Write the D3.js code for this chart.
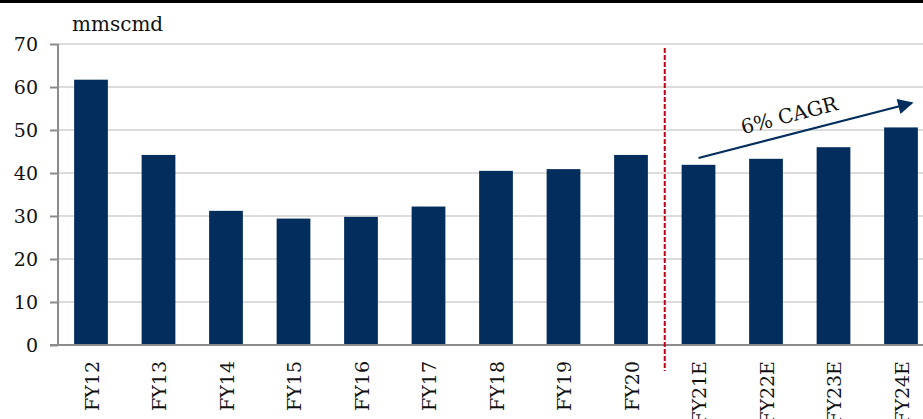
<!DOCTYPE html>
<html>
<head>
<meta charset="utf-8">
<script src="https://cdn.jsdelivr.net/npm/d3@7"></script>
<style>
  html, body { margin: 0; padding: 0; background: #fff; }
  svg { display: block; }
  text { font-family: "Palatino Linotype", "Book Antiqua", Palatino, "DejaVu Serif", serif; fill: #111; }
</style>
</head>
<body>
<svg id="chart" width="923" height="419"></svg>
<script>
// Gas demand, actual and estimated (mmscmd)
const categories = ["FY12", "FY13", "FY14", "FY15", "FY16", "FY17", "FY18", "FY19", "FY20", "FY21E", "FY22E", "FY23E", "FY24E"];
const values = [61.7, 44.2, 31.2, 29.4, 29.8, 32.2, 40.5, 40.9, 44.2, 41.9, 43.3, 46.0, 50.6];
const yTicks = [0, 10, 20, 30, 40, 50, 60, 70];
const unitLabel = "mmscmd";
const cagrLabel = "6% CAGR";
const forecastStart = "FY21E";

const W = 923, H = 419;
const FONT = '"Palatino Linotype","Book Antiqua",Palatino,"DejaVu Serif",serif';
const margin = { left: 57.25, top: 44 };
const plotRight = 934.75;

const svg = d3.select("#chart");

const x = d3.scaleBand().domain(categories).range([margin.left, plotRight]).paddingInner(0.5).paddingOuter(0.25);
const y = d3.scaleLinear().domain([0, 70]).range([345, 44]);

// top rule
svg.append("rect").attr("x", 0).attr("y", 0).attr("width", W).attr("height", 3).attr("fill", "#000");

// gridlines
svg.append("g").selectAll("line").data(yTicks.filter(d => d > 0)).join("line")
  .attr("x1", 58).attr("x2", W)
  .attr("y1", d => y(d)).attr("y2", d => y(d))
  .attr("stroke", "#dcdcdc").attr("stroke-width", 2);

// bars
svg.append("g").selectAll("rect").data(values).join("rect")
  .attr("x", (d, i) => x(categories[i]))
  .attr("width", x.bandwidth())
  .attr("y", d => y(d))
  .attr("height", d => y(0) - y(d))
  .attr("fill", "#032d5c");

// y axis
const yAxis = d3.axisLeft(y).tickValues(yTicks).tickSize(8).tickPadding(12).tickFormat(d3.format("d"));
const gy = svg.append("g").attr("transform", "translate(58,0)").call(yAxis);
gy.select(".domain").attr("stroke", "#8c8c8c").attr("stroke-width", 2).attr("d", `M0,${y(70)}V${y(0)}`);
gy.selectAll(".tick line").attr("stroke", "#8c8c8c").attr("stroke-width", 2);
gy.selectAll(".tick text").attr("font-size", 19).attr("fill", "#111").style("font-family", FONT);

// x axis
svg.append("line").attr("x1", 50).attr("x2", W).attr("y1", y(0)).attr("y2", y(0))
  .attr("stroke", "#8c8c8c").attr("stroke-width", 2);
const xAxis = d3.axisBottom(x).tickSize(0).tickPadding(0);
const gx = svg.append("g").attr("transform", `translate(0,${y(0)})`).call(xAxis);
gx.select(".domain").remove();
gx.selectAll(".tick text")
  .attr("transform", "rotate(-90)")
  .attr("x", -16).attr("y", 1).attr("dy", "0.35em")
  .attr("text-anchor", "end")
  .attr("font-size", 19).attr("fill", "#111").style("font-family", FONT);

// unit label
svg.append("text").attr("x", 72).attr("y", 31).attr("font-size", 20).text(unitLabel);

// actual / forecast divider
const splitX = x(forecastStart) - x.step() * x.paddingInner() / 2;
svg.append("line").attr("x1", splitX).attr("x2", splitX).attr("y1", 48).attr("y2", 371)
  .attr("stroke", "#c0001a").attr("stroke-width", 2).attr("stroke-dasharray", "5,2");

// CAGR arrow
const defs = svg.append("defs");
defs.append("marker").attr("id", "arrowhead").attr("viewBox", "0 0 10 10")
  .attr("refX", 9).attr("refY", 5).attr("markerWidth", 8).attr("markerHeight", 7)
  .attr("markerUnits", "strokeWidth").attr("orient", "auto")
  .append("path").attr("d", "M0,0L10,5L0,10Z").attr("fill", "#032d5c");

const ax1 = x("FY21E") + x.bandwidth() * 0.5, ay1 = 158;
const ax2 = 916, ay2 = 102;
svg.append("line").attr("x1", ax1).attr("y1", ay1).attr("x2", ax2 - 4).attr("y2", ay2 + 1)
  .attr("stroke", "#032d5c").attr("stroke-width", 2.2).attr("marker-end", "url(#arrowhead)");

const angle = Math.atan2(ay2 - ay1, ax2 - ax1) * 180 / Math.PI;
svg.append("text").attr("transform", `translate(791,122) rotate(${angle})`)
  .attr("text-anchor", "middle").attr("font-size", 20).text(cagrLabel);
</script>
</body>
</html>
